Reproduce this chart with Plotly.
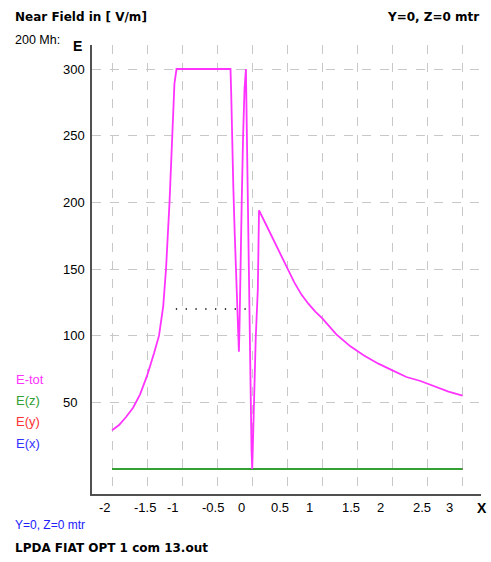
import plotly.graph_objects as go

# ---- data ----
etot_x = [-2.0, -1.9, -1.8, -1.7, -1.6, -1.5, -1.4, -1.33, -1.27, -1.23, -1.18, -1.15, -1.11, -1.08,
          -0.31, -0.30, -0.29, -0.27, -0.25, -0.23, -0.21, -0.19,
          -0.18, -0.17, -0.15, -0.13, -0.11, -0.09,
          -0.08, -0.07, -0.06, -0.05, -0.04, -0.03, -0.01, 0.0,
          0.01, 0.03, 0.05, 0.08, 0.097,
          0.2, 0.3, 0.4, 0.5, 0.6, 0.7, 0.8, 0.9, 1.0, 1.2, 1.4, 1.6, 1.8, 2.0, 2.2, 2.4, 2.6, 2.8, 3.0]
etot_y = [29, 33, 39, 46, 56, 70, 87, 100, 122, 150, 200, 242, 289, 300,
          300, 282, 247, 212, 177, 142, 110, 88,
          110, 150, 200, 250, 285, 300,
          265, 225, 175, 137, 100, 57, 14, 0,
          20, 60, 98, 135, 194,
          183, 172, 161, 150, 140, 131, 124, 118, 113, 101, 92, 85, 79, 74, 69, 66, 62, 58, 55]

comp_x = [-2.0, 3.0]
ez_y = [0, 0]
ey_y = [0, 0]
ex_y = [0, 0]

marker_x = [-1.09, 0.01]
marker_y = [120, 120]

x_tick_pos = [-2.096, -1.536, -1.131, -0.554, -0.154, 0.403, 0.821, 1.403, 1.826, 2.417, 2.817]
x_tick_text = ["-2", "-1.5", "-1", "-0.5", "0", "0.5", "1", "1.5", "2", "2.5", "3"]
y_tick_vals = [50, 100, 150, 200, 250, 300]
y_tick_text = ["50", "100", "150", "200", "250", "300"]

legend_names = ["E-tot", "E(z)", "E(y)", "E(x)"]
legend_colors = ["#ff33ff", "#33a033", "#ff3333", "#3333ff"]

FONT = "Liberation Sans, Arial, sans-serif"
BFONT = "DejaVu Sans, Liberation Sans, sans-serif"

fig = go.Figure()
fig.add_trace(go.Scatter(x=comp_x, y=ex_y, mode="lines", line=dict(color="#3333ff", width=2), hoverinfo="skip"))
fig.add_trace(go.Scatter(x=comp_x, y=ey_y, mode="lines", line=dict(color="#ff3333", width=2), hoverinfo="skip"))
fig.add_trace(go.Scatter(x=comp_x, y=ez_y, mode="lines", line=dict(color="#33a033", width=2), hoverinfo="skip"))
fig.add_trace(go.Scatter(x=etot_x, y=etot_y, mode="lines", line=dict(color="#ff33ff", width=1.8), hoverinfo="skip"))
fig.add_trace(go.Scatter(x=marker_x, y=marker_y, mode="lines",
                         line=dict(color="#000000", width=1.3, dash="1.3px,8.5px"), hoverinfo="skip"))

ann = []
for v, t in zip(x_tick_pos, x_tick_text):
    ann.append(dict(x=v, y=-0.031, xref="x", yref="paper", text=t, showarrow=False,
                    xanchor="center", yanchor="middle", font=dict(family=FONT, size=13, color="#000")))
for v, t in zip(y_tick_vals, y_tick_text):
    ann.append(dict(x=-0.0785, y=v, xref="paper", yref="y", text=t, showarrow=False,
                    xanchor="left", yanchor="middle", font=dict(family=FONT, size=13, color="#000")))
leg_y = [379, 400, 421.5, 443]
for n, c, py in zip(legend_names, legend_colors, leg_y):
    ann.append(dict(x=(14 - 92) / 389, y=(494 - py) / 449, xref="paper", yref="paper", text=n,
                    showarrow=False, xanchor="left", yanchor="middle", font=dict(family=FONT, size=13, color=c)))

def pa(px, py, text, xa="left", size=13, color="#000", bold=False, family=FONT):
    t = "<b>%s</b>" % text if bold else text
    ann.append(dict(x=(px - 92) / 389, y=(494 - py) / 449, xref="paper", yref="paper", text=t,
                    showarrow=False, xanchor=xa, yanchor="middle", font=dict(family=family, size=size, color=color)))

pa(13, 17, "Near Field in [ V/m]", bold=True, size=12, family=BFONT)
pa(481, 17, "Y=0, Z=0 mtr", xa="right", bold=True, size=12, family=BFONT)
pa(13, 40, "200 Mh:", size=12.5)
pa(71, 46, "E", bold=True, size=14)
pa(475, 508, "X", bold=True, size=14)
pa(13, 525, "Y=0, Z=0 mtr", size=12, color="#2020ff")
pa(13, 548, "LPDA FIAT OPT 1 com 13.out", bold=True, size=12, family=BFONT)

fig.update_layout(
    width=491, height=562,
    margin=dict(l=92, r=10, t=45, b=68),
    paper_bgcolor="white", plot_bgcolor="white",
    showlegend=False,
    annotations=ann,
    xaxis=dict(range=[-2.286, 3.264], tick0=-2, dtick=0.5, showticklabels=False, ticks="",
               showgrid=True, gridcolor="#c8c8c8", griddash="dash", gridwidth=1,
               zeroline=False, showline=True, linecolor="#505050", linewidth=1.5, fixedrange=True),
    yaxis=dict(range=[-18.75, 318], tickvals=y_tick_vals, showticklabels=False, ticks="",
               showgrid=True, gridcolor="#c8c8c8", griddash="dash", gridwidth=1,
               zeroline=False, showline=True, linecolor="#505050", linewidth=1.5, fixedrange=True),
)

fig.write_html("out.html", post_script="document.body.style.margin='0';",
               config={"displayModeBar": False})
